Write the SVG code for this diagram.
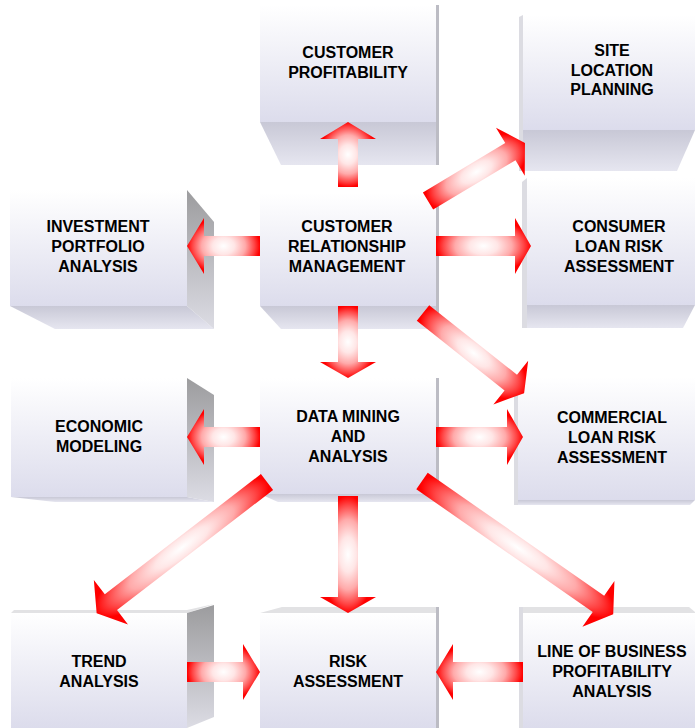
<svg xmlns="http://www.w3.org/2000/svg" width="695" height="728" viewBox="0 0 695 728">
<defs>
<linearGradient id="gFront" x1="0" y1="0" x2="0" y2="1">
<stop offset="0" stop-color="#ffffff"/>
<stop offset="1" stop-color="#dcdcec"/>
</linearGradient>
<linearGradient id="gBot" x1="0" y1="0" x2="0" y2="1">
<stop offset="0" stop-color="#c8c8d6"/>
<stop offset="1" stop-color="#e6e6f0"/>
</linearGradient>
<linearGradient id="gSide" x1="0" y1="0" x2="0" y2="1">
<stop offset="0" stop-color="#9c9c9e"/>
<stop offset="1" stop-color="#dcdce4"/>
</linearGradient>
<radialGradient id="gArrow" cx="0.5" cy="0.5" r="0.5">
<stop offset="0" stop-color="#ffffff"/>
<stop offset="0.3" stop-color="#ffe6e6"/>
<stop offset="0.6" stop-color="#ffaaaa"/>
<stop offset="0.85" stop-color="#ff4545"/>
<stop offset="1" stop-color="#ff0000"/>
</radialGradient>
</defs>
<style>
.front{fill:url(#gFront)}
.bot{fill:url(#gBot)}
.side{fill:url(#gSide)}
.strip{fill:#bcbcc4}
.lstrip{fill:#dcdce2}
.top{fill:#e2e2e4}
.arrow{fill:url(#gArrow)}
text{font-family:"Liberation Sans",Arial,sans-serif;font-weight:bold;font-size:16px;fill:#000;text-anchor:middle}
</style>
<rect width="695" height="728" fill="#ffffff"/>

<g id="customer-profitability">
<polygon class="bot" points="260,122 436,122 439,165 281,165"/>
<rect class="strip" x="436" y="5" width="3" height="160"/>
<rect class="front" x="260" y="5" width="176" height="117"/>
<text x="348" y="58">CUSTOMER</text>
<text x="348" y="78">PROFITABILITY</text>
</g>

<g id="site-location-planning">
<polygon class="bot" points="523,130 695,130 677,171 523,171"/>
<polygon class="lstrip" points="519,17 523,15 523,171 519,171"/>
<rect class="front" x="523" y="15" width="172" height="115"/>
<text x="612" y="56">SITE</text>
<text x="612" y="76">LOCATION</text>
<text x="612" y="95">PLANNING</text>
</g>

<g id="investment-portfolio-analysis">
<polygon class="bot" points="10,306 187,306 214,329 55,329"/>
<polygon class="side" points="187,190 214,222 214,329 187,306"/>
<rect class="front" x="10" y="190" width="177" height="116"/>
<text x="98" y="232">INVESTMENT</text>
<text x="98" y="252">PORTFOLIO</text>
<text x="98" y="272">ANALYSIS</text>
</g>

<g id="customer-relationship-management">
<polygon class="bot" points="260,306 436,306 439,329 281,329"/>
<rect class="strip" x="436" y="193" width="3" height="136"/>
<rect class="front" x="260" y="193" width="176" height="113"/>
<text x="347" y="232">CUSTOMER</text>
<text x="347" y="252">RELATIONSHIP</text>
<text x="347" y="272">MANAGEMENT</text>
</g>

<g id="consumer-loan-risk-assessment">
<polygon class="bot" points="527,305 695,305 683,328 527,328"/>
<polygon class="lstrip" points="522,182 527,178 527,328 522,328"/>
<rect class="front" x="527" y="178" width="168" height="127"/>
<text x="619" y="232">CONSUMER</text>
<text x="619" y="252">LOAN RISK</text>
<text x="619" y="272">ASSESSMENT</text>
</g>

<g id="economic-modeling">
<polygon class="bot" points="11,497 187,497 214,502 55,502"/>
<polygon class="side" points="187,378 214,395 214,502 187,497"/>
<rect class="front" x="11" y="378" width="176" height="119"/>
<text x="99" y="432">ECONOMIC</text>
<text x="99" y="452">MODELING</text>
</g>

<g id="data-mining-and-analysis">
<polygon class="bot" points="260,494 436,494 438,502 278,502"/>
<rect class="strip" x="436" y="378" width="3" height="124"/>
<rect class="front" x="260" y="378" width="176" height="116"/>
<text x="348" y="422">DATA MINING</text>
<text x="348" y="442">AND</text>
<text x="348" y="462">ANALYSIS</text>
</g>

<g id="commercial-loan-risk-assessment">
<polygon class="bot" points="518,500 695,500 690,505 518,505"/>
<polygon class="lstrip" points="514,380 518,377 518,505 514,505"/>
<rect class="front" x="518" y="377" width="177" height="123"/>
<text x="612" y="423">COMMERCIAL</text>
<text x="612" y="443">LOAN RISK</text>
<text x="612" y="463">ASSESSMENT</text>
</g>

<g id="trend-analysis">
<polygon class="top" points="14,610 187,610 214,604 187,613 11,613"/>
<polygon class="side" points="187,613 214,605 214,717 187,728"/>
<rect class="front" x="11" y="613" width="176" height="115"/>
<text x="99" y="667">TREND</text>
<text x="99" y="687">ANALYSIS</text>
</g>

<g id="risk-assessment">
<polygon class="top" points="260,613 436,613 438,607 282,607"/>
<rect class="strip" x="436" y="607" width="3" height="121"/>
<rect class="front" x="260" y="613" width="176" height="115"/>
<text x="348" y="667">RISK</text>
<text x="348" y="687">ASSESSMENT</text>
</g>

<g id="line-of-business-profitability-analysis">
<polygon class="top" points="519,607 689,607 695,612 695,613 523,613"/>
<rect class="lstrip" x="519" y="607" width="4" height="121"/>
<rect class="front" x="523" y="613" width="172" height="115"/>
<text x="612" y="657">LINE OF BUSINESS</text>
<text x="612" y="677">PROFITABILITY</text>
<text x="612" y="697">ANALYSIS</text>
</g>

<g id="connectors">
<path class="arrow" transform="translate(348,187) rotate(-90)" d="M0,-10 H48 V-28 L65,0 L48,28 V10 H0 Z"/>
<path class="arrow" transform="translate(260,246) rotate(180)" d="M0,-10 H56 V-28 L73,0 L56,28 V10 H0 Z"/>
<path class="arrow" transform="translate(436,246)" d="M0,-10 H79 V-28 L95,0 L79,28 V10 H0 Z"/>
<path class="arrow" transform="translate(428,201) rotate(-30.9)" d="M0,-10 H96 V-28 L113,0 L96,28 V10 H0 Z"/>
<path class="arrow" transform="translate(423,313) rotate(38.4)" d="M0,-10 H112 V-28 L129,0 L112,28 V10 H0 Z"/>
<path class="arrow" transform="translate(348,306) rotate(90)" d="M0,-10 H56 V-28 L72,0 L56,28 V10 H0 Z"/>
<path class="arrow" transform="translate(260,437) rotate(180)" d="M0,-10 H56 V-28 L73,0 L56,28 V10 H0 Z"/>
<path class="arrow" transform="translate(436,437)" d="M0,-10 H71 V-28 L87,0 L71,28 V10 H0 Z"/>
<path class="arrow" transform="translate(267,482) rotate(142.4)" d="M0,-10 H197 V-28 L215,0 L197,28 V10 H0 Z"/>
<path class="arrow" transform="translate(348,496) rotate(90)" d="M0,-10 H101 V-28 L117,0 L101,28 V10 H0 Z"/>
<path class="arrow" transform="translate(422,481) rotate(34.85)" d="M0,-10 H215 V-28 L233,0 L215,28 V10 H0 Z"/>
<path class="arrow" transform="translate(187,672)" d="M0,-10 H56 V-28 L73,0 L56,28 V10 H0 Z"/>
<path class="arrow" transform="translate(523,672) rotate(180)" d="M0,-10 H70 V-28 L87,0 L70,28 V10 H0 Z"/>
</g>
</svg>
